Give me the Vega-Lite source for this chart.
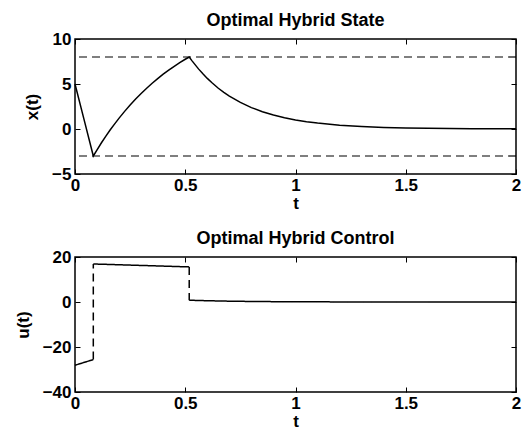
{
  "$schema": "https://vega.github.io/schema/vega-lite/v6.json",
  "background": "white",
  "padding": {"left": 13, "top": 11, "right": 5, "bottom": 5},
  "spacing": 17,
  "datasets": {
    "xs": [
      {"t": 0, "v": 5}, {"t": 0.04, "v": 1.15}, {"t": 0.083, "v": -3}, {"t": 0.1, "v": -2.31},
      {"t": 0.12, "v": -1.53}, {"t": 0.14, "v": -0.8}, {"t": 0.16, "v": -0.09}, {"t": 0.18, "v": 0.57},
      {"t": 0.2, "v": 1.21}, {"t": 0.225, "v": 1.96}, {"t": 0.25, "v": 2.67}, {"t": 0.275, "v": 3.33},
      {"t": 0.3, "v": 3.95}, {"t": 0.325, "v": 4.53}, {"t": 0.35, "v": 5.08}, {"t": 0.375, "v": 5.6},
      {"t": 0.4, "v": 6.09}, {"t": 0.425, "v": 6.54}, {"t": 0.45, "v": 6.97}, {"t": 0.475, "v": 7.37},
      {"t": 0.5, "v": 7.75}, {"t": 0.518, "v": 8}, {"t": 0.53, "v": 7.6}, {"t": 0.56, "v": 6.68},
      {"t": 0.58, "v": 6.13}, {"t": 0.6, "v": 5.62}, {"t": 0.62, "v": 5.16}, {"t": 0.65, "v": 4.53},
      {"t": 0.675, "v": 4.07}, {"t": 0.7, "v": 3.66}, {"t": 0.75, "v": 2.95},
      {"t": 0.8, "v": 2.38}, {"t": 0.85, "v": 1.92}, {"t": 0.9, "v": 1.55}, {"t": 0.95, "v": 1.25},
      {"t": 1.0, "v": 1.01}, {"t": 1.05, "v": 0.81}, {"t": 1.1, "v": 0.66}, {"t": 1.2, "v": 0.43}, {"t": 1.3, "v": 0.28},
      {"t": 1.4, "v": 0.18}, {"t": 1.5, "v": 0.12}, {"t": 1.6, "v": 0.076}, {"t": 1.7, "v": 0.05},
      {"t": 1.8, "v": 0.032}, {"t": 1.9, "v": 0.021}, {"t": 2.0, "v": 0.014}
    ],
    "us": [
      {"seg": "s1", "style": "solid", "t": 0, "v": -28.1},
      {"seg": "s1", "style": "solid", "t": 0.083, "v": -25.6},
      {"seg": "d1", "style": "dashed", "t": 0.083, "v": -25.6},
      {"seg": "d1", "style": "dashed", "t": 0.083, "v": 16.9},
      {"seg": "s2", "style": "solid", "t": 0.083, "v": 16.9},
      {"seg": "s2", "style": "solid", "t": 0.518, "v": 15.6},
      {"seg": "d2", "style": "dashed", "t": 0.518, "v": 15.6},
      {"seg": "d2", "style": "dashed", "t": 0.518, "v": 0.8},
      {"seg": "s3", "style": "solid", "t": 0.518, "v": 0.8},
      {"seg": "s3", "style": "solid", "t": 0.6, "v": 0.56},
      {"seg": "s3", "style": "solid", "t": 0.7, "v": 0.37},
      {"seg": "s3", "style": "solid", "t": 0.8, "v": 0.24},
      {"seg": "s3", "style": "solid", "t": 0.9, "v": 0.155},
      {"seg": "s3", "style": "solid", "t": 1.0, "v": 0.1},
      {"seg": "s3", "style": "solid", "t": 1.2, "v": 0.043},
      {"seg": "s3", "style": "solid", "t": 1.4, "v": 0.018},
      {"seg": "s3", "style": "solid", "t": 1.6, "v": 0.008},
      {"seg": "s3", "style": "solid", "t": 1.8, "v": 0.003},
      {"seg": "s3", "style": "solid", "t": 2.0, "v": 0.0014}
    ],
    "bounds": [{"level": 8}, {"level": -3}]
  },
  "vconcat": [
    {
      "width": 441,
      "height": 135,
      "title": {"text": "Optimal Hybrid State", "frame": "group", "anchor": "middle", "offset": 0},
      "layer": [
        {
          "data": {"name": "bounds"},
          "mark": {"type": "rule", "color": "black", "strokeWidth": 1.2, "strokeDash": [8, 5]},
          "encoding": {"y": {"field": "level", "type": "quantitative", "scale": {"domain": [-5, 10], "nice": false, "zero": false}, "axis": null}}
        },
        {
          "mark": {"type": "rule", "color": "black", "strokeWidth": 1},
          "encoding": {"y": {"datum": 0, "type": "quantitative", "axis": null}}
        },
        {
          "data": {"name": "xs"},
          "mark": {"type": "line", "color": "black", "strokeWidth": 1.5},
          "encoding": {
            "x": {"field": "t", "type": "quantitative", "scale": {"domain": [0, 2], "nice": false, "zero": false},
                  "axis": {"orient": "bottom", "values": [0, 0.5, 1, 1.5, 2], "format": ".1~f", "title": "t"}},
            "y": {"field": "v", "type": "quantitative", "scale": {"domain": [-5, 10], "nice": false, "zero": false},
                  "axis": {"orient": "left", "values": [-5, 0, 5, 10], "format": ".1~f", "title": "x(t)"}}
          }
        },
        {
          "data": {"name": "xs"},
          "mark": {"type": "line", "color": "black", "opacity": 0},
          "encoding": {
            "x": {"field": "t", "type": "quantitative", "axis": {"orient": "top", "values": [0, 0.5, 1, 1.5, 2], "labels": false, "title": null}},
            "y": {"field": "v", "type": "quantitative", "axis": {"orient": "right", "values": [-5, 0, 5, 10], "labels": false, "title": null}}
          }
        }
      ],
      "resolve": {"axis": {"x": "independent", "y": "independent"}}
    },
    {
      "width": 441,
      "height": 135,
      "title": {"text": "Optimal Hybrid Control", "frame": "group", "anchor": "middle", "offset": 0},
      "layer": [
        {
          "mark": {"type": "rule", "color": "black", "strokeWidth": 1},
          "encoding": {"y": {"datum": 0, "type": "quantitative", "scale": {"domain": [-40, 20], "nice": false, "zero": false}, "axis": null}}
        },
        {
          "data": {"name": "us"},
          "mark": {"type": "line", "color": "black", "strokeWidth": 1.5},
          "encoding": {
            "x": {"field": "t", "type": "quantitative", "scale": {"domain": [0, 2], "nice": false, "zero": false},
                  "axis": {"orient": "bottom", "values": [0, 0.5, 1, 1.5, 2], "format": ".1~f", "title": "t"}},
            "y": {"field": "v", "type": "quantitative", "scale": {"domain": [-40, 20], "nice": false, "zero": false},
                  "axis": {"orient": "left", "values": [-40, -20, 0, 20], "format": ".1~f", "title": "u(t)"}},
            "detail": {"field": "seg"},
            "strokeDash": {"field": "style", "type": "nominal", "scale": {"domain": ["solid", "dashed"], "range": [[1, 0], [8, 5]]}, "legend": null}
          }
        },
        {
          "data": {"name": "us"},
          "mark": {"type": "line", "color": "black", "opacity": 0},
          "encoding": {
            "x": {"field": "t", "type": "quantitative", "axis": {"orient": "top", "values": [0, 0.5, 1, 1.5, 2], "labels": false, "title": null}},
            "y": {"field": "v", "type": "quantitative", "axis": {"orient": "right", "values": [-40, -20, 0, 20], "labels": false, "title": null}},
            "detail": {"field": "seg"}
          }
        }
      ],
      "resolve": {"axis": {"x": "independent", "y": "independent"}}
    }
  ],
  "config": {
    "view": {"stroke": "black", "strokeWidth": 1.5},
    "font": "Liberation Sans",
    "axis": {
      "domain": false, "grid": false, "ticks": true, "tickColor": "black", "tickSize": -5, "tickWidth": 1,
      "labelFont": "Liberation Sans", "labelFontWeight": "bold", "labelFontSize": 17, "labelColor": "black",
      "labelPadding": 8, "labelFlush": false, "labelOverlap": false,
      "titleFont": "Liberation Sans", "titleFontWeight": "bold", "titleFontSize": 17, "titleColor": "black", "titlePadding": 2
    },
    "axisY": {"titlePadding": 10, "labelPadding": 9},
    "title": {"font": "Liberation Sans", "fontSize": 18, "fontWeight": "bold", "color": "black"}
  }
}
